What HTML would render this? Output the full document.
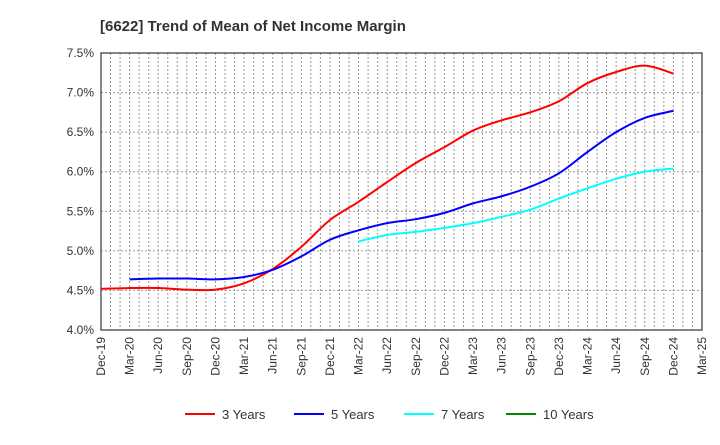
<!DOCTYPE html>
<html><head><meta charset="utf-8"><style>
body{margin:0;background:#fff;font-family:"Liberation Sans",sans-serif;}
svg text{font-family:"Liberation Sans",sans-serif;}
</style></head><body>
<svg id="c" width="720" height="440" xmlns="http://www.w3.org/2000/svg">
<text x="100" y="31" font-size="15" font-weight="bold" fill="#333">[6622]  Trend of Mean of Net Income Margin</text>
<g id="grid"></g><g id="axes"></g><g id="series"></g><g id="legend"></g>
</svg>
<script>
const xLabels=["Dec-19","Mar-20","Jun-20","Sep-20","Dec-20","Mar-21","Jun-21","Sep-21","Dec-21","Mar-22","Jun-22","Sep-22","Dec-22","Mar-23","Jun-23","Sep-23","Dec-23","Mar-24","Jun-24","Sep-24","Dec-24","Mar-25"];
const yTicks=[4.0,4.5,5.0,5.5,6.0,6.5,7.0,7.5];
const s3=[4.52,4.53,4.53,4.51,4.51,4.59,4.77,5.05,5.39,5.62,5.87,6.11,6.31,6.52,6.65,6.75,6.89,7.12,7.26,7.34,7.24];
const s5=[null,4.64,4.65,4.65,4.64,4.67,4.76,4.93,5.14,5.26,5.35,5.40,5.48,5.60,5.69,5.81,5.98,6.25,6.50,6.68,6.77];
const s7=[null,null,null,null,null,null,null,null,null,5.12,5.20,5.24,5.29,5.35,5.43,5.52,5.66,5.79,5.91,6.00,6.04];
const s10=[];
const L=101,R=702,T=53,B=330;
const xs=i=>L+i*(R-L)/21;
const ys=v=>B-(v-4)*(B-T)/3.5;
const NS="http://www.w3.org/2000/svg";
function mk(tag,attrs,parent){const e=document.createElementNS(NS,tag);for(const k in attrs)e.setAttribute(k,attrs[k]);document.getElementById(parent).appendChild(e);return e;}
for(let m=1;m<63;m++){const x=L+m*(R-L)/63;const g=mk('line',{x1:x,x2:x,y1:T,y2:B,stroke:'#999','stroke-dasharray':'2,2','stroke-width':1},'grid');

}
yTicks.forEach(v=>{if(v>4&&v<7.5){const g=mk('line',{x1:L,x2:R,y1:ys(v),y2:ys(v),stroke:'#999','stroke-dasharray':'2,2'},'grid');

}
const t=mk('text',{x:94,y:ys(v)+4,'font-size':12,'text-anchor':'end',fill:'#333'},'axes');t.textContent=v.toFixed(1)+'%';

});
const fr=mk('rect',{x:L,y:T,width:R-L,height:B-T,fill:'none',stroke:'#444','stroke-width':1.3},'axes');


xLabels.forEach((l,i)=>{const x=xs(i)+4;const t=mk('text',{x:x,y:337,'font-size':12,'text-anchor':'end',fill:'#333',transform:`rotate(-90 ${x} 337)`},'axes');t.textContent=l;

});
function path(arr){const p=[];arr.forEach((v,i)=>{if(v!=null)p.push([xs(i),ys(v)]);});if(p.length<2)return '';
let d=`M${p[0][0]},${p[0][1]}`;for(let i=0;i<p.length-1;i++){const p0=p[i-1]||p[i],p1=p[i],p2=p[i+1],p3=p[i+2]||p2;
d+=` C${p1[0]+(p2[0]-p0[0])/6},${p1[1]+(p2[1]-p0[1])/6} ${p2[0]-(p3[0]-p1[0])/6},${p2[1]-(p3[1]-p1[1])/6} ${p2[0]},${p2[1]}`;}return d;}
[[s3,'#f00','series-3-years'],[s5,'#00f','series-5-years'],[s7,'#0ff','series-7-years'],[s10,'#080','series-10-years']].forEach(([a,c,n])=>{const d=path(a);if(!d)return;
const e=mk('path',{d:d,fill:'none',stroke:c,'stroke-width':2},'series');

});
[['3 Years','#f00',185],['5 Years','#00f',294],['7 Years','#0ff',404],['10 Years','#080',506]].forEach(([t,c,x])=>{
const g=mk('g',{},'legend');


const l=document.createElementNS(NS,'line');l.setAttribute('x1',x);l.setAttribute('x2',x+30);l.setAttribute('y1',414);l.setAttribute('y2',414);l.setAttribute('stroke',c);l.setAttribute('stroke-width',2);g.appendChild(l);
const tx=document.createElementNS(NS,'text');tx.setAttribute('x',x+37);tx.setAttribute('y',419);tx.setAttribute('font-size',13);tx.setAttribute('fill','#333');tx.textContent=t;g.appendChild(tx);});
</script>
</body></html>
